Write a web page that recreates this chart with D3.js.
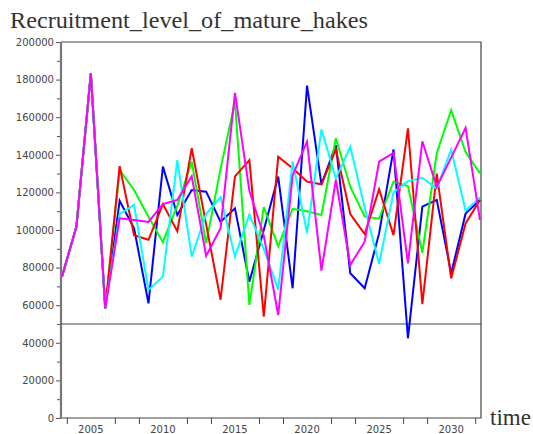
<!DOCTYPE html>
<html>
<head>
<meta charset="utf-8">
<script src="https://cdn.jsdelivr.net/npm/d3@7"></script>
<style>
  body { margin: 0; background: #fff; }
  svg { display: block; }
</style>
</head>
<body>
<div id="chart-container"></div>
<script>
// Data
const years = d3.range(2003, 2033);
const blueValues = [75200, 101800, 183300, 58300, 115600, 100900, 61000, 133700, 108000, 121300,
  120400, 104400, 111500, 72500, 100000, 128400, 69000, 176800, 124300, 145200,
  77000, 69000, 98200, 142900, 42400, 112400, 116000, 77000, 108700, 116000];
const greenValues = [75200, 101800, 183300, 58300, 131900, 121300, 107100, 93500, 113000, 136400,
  92900, 132500, 168200, 60100, 112200, 91300, 111300, 110000, 108000, 148800,
  123000, 107100, 106000, 125700, 123400, 87900, 140800, 163800, 141500, 130100];
const redValues = [75200, 101800, 183300, 58300, 134000, 97200, 94800, 113800, 99300, 143500,
  103000, 62900, 128500, 137200, 53900, 139000, 132800, 125700, 124300, 142900,
  108500, 97800, 121700, 97300, 154100, 60500, 130000, 74300, 103500, 116000];
const cyanValues = [75200, 101800, 183300, 58300, 108500, 113300, 68100, 75200, 137200, 85800,
  108500, 117500, 85800, 108200, 90000, 68300, 136400, 98400, 153500, 127500,
  144200, 112000, 81900, 120000, 126000, 127800, 122000, 142800, 110200, 117400];
const magentaValues = [75200, 101800, 183300, 58300, 106200, 105300, 104300, 113800, 116000, 128600,
  86200, 100900, 172900, 120800, 97000, 54800, 129000, 147000, 78400, 126600,
  81400, 93800, 136400, 141000, 82300, 147200, 123000, 138500, 154300, 105300];

const seriesColors = ["#0000ff", "#00ff00", "#ff0000", "#00ffff", "#ff00ff"];
const seriesValues = [blueValues, greenValues, redValues, cyanValues, magentaValues];

const xTickLabels = [2005, 2010, 2015, 2020, 2025, 2030];
const yTickLabels = [0, 20000, 40000, 60000, 80000, 100000, 120000, 140000, 160000, 180000, 200000];
const referenceValue = 50000;

//Visualisation
const W = 533, H = 434;
const plot = { left: 61, right: 481, top: 42, bottom: 418 };

const svg = d3.select("#chart-container")
  .append("svg")
  .attr("width", W)
  .attr("height", H);

const x = d3.scaleLinear().domain([2003, 2032]).range([62, 480]);
const y = d3.scaleLinear().domain([0, 200000]).range([plot.bottom, plot.top]);

// title
svg.append("text")
  .attr("x", 10)
  .attr("y", 28)
  .attr("font-family", "Liberation Serif, serif")
  .attr("font-size", 24)
  .attr("fill", "#333")
  .attr("textLength", 358)
  .attr("lengthAdjust", "spacingAndGlyphs")
  .text("Recruitment_level_of_mature_hakes");

// frame (top, right, bottom)
svg.append("path")
  .attr("d", `M${plot.left},${plot.top}H${plot.right}V${plot.bottom}H${plot.left}`)
  .attr("fill", "none")
  .attr("stroke", "#444")
  .attr("stroke-width", 1.2);

// y axis : major ticks with labels, minor ticks between
const yMinor = d3.range(10000, 200000, 20000);
const gy = svg.append("g").attr("transform", `translate(${plot.left},0)`);
gy.call(d3.axisLeft(y).tickValues(yTickLabels).tickSize(5).tickPadding(2).tickFormat(d3.format("d")));
gy.append("g").call(d3.axisLeft(y).tickValues(yMinor).tickSize(4).tickFormat(""));
gy.selectAll(".domain").remove();
gy.selectAll("line").attr("stroke", "#555");
gy.selectAll("text")
  .attr("font-family", "DejaVu Sans, sans-serif")
  .attr("font-size", 10)
  .attr("fill", "#444");

// x axis : minor ticks every 5/3 years, labels every 5 years
const xMinor = d3.range(0, 18).map((i) => 2005 + (i - 1) * 5 / 3)
  .filter((v) => Math.abs(Math.round(v) - v) > 0.01 || Math.round(v) % 5 !== 0);
const gx = svg.append("g").attr("transform", `translate(0,${plot.bottom})`);
gx.call(d3.axisBottom(x).tickValues(xMinor).tickSize(6).tickFormat(""));
gx.selectAll(".domain").remove();
gx.selectAll("line").attr("stroke", "#444");
gx.selectAll(".xlab")
  .data(xTickLabels)
  .enter()
  .append("text")
  .attr("class", "xlab")
  .attr("x", (d) => x(d))
  .attr("y", 15)
  .attr("text-anchor", "middle")
  .attr("font-family", "DejaVu Sans, sans-serif")
  .attr("font-size", 10)
  .attr("fill", "#444")
  .text((d) => d);

// left axis line, thicker
svg.append("line")
  .attr("x1", plot.left).attr("x2", plot.left)
  .attr("y1", plot.top).attr("y2", plot.bottom)
  .attr("stroke", "#777")
  .attr("stroke-width", 2.2);

// reference line at 50000
svg.append("line")
  .attr("x1", plot.left).attr("x2", plot.right)
  .attr("y1", y(referenceValue)).attr("y2", y(referenceValue))
  .attr("stroke", "#444")
  .attr("stroke-width", 1);

// series
const line = d3.line()
  .x((d, i) => x(years[i]))
  .y((d) => y(d));

svg.append("g")
  .selectAll("path")
  .data(seriesValues)
  .enter()
  .append("path")
  .attr("d", line)
  .attr("fill", "none")
  .attr("stroke", (d, i) => seriesColors[i])
  .attr("stroke-width", 2)
  .attr("stroke-linejoin", "miter");

// x axis name
svg.append("text")
  .attr("x", 490)
  .attr("y", 425)
  .attr("font-family", "Liberation Serif, serif")
  .attr("font-size", 23)
  .attr("fill", "#333")
  .text("time");
</script>
</body>
</html>
